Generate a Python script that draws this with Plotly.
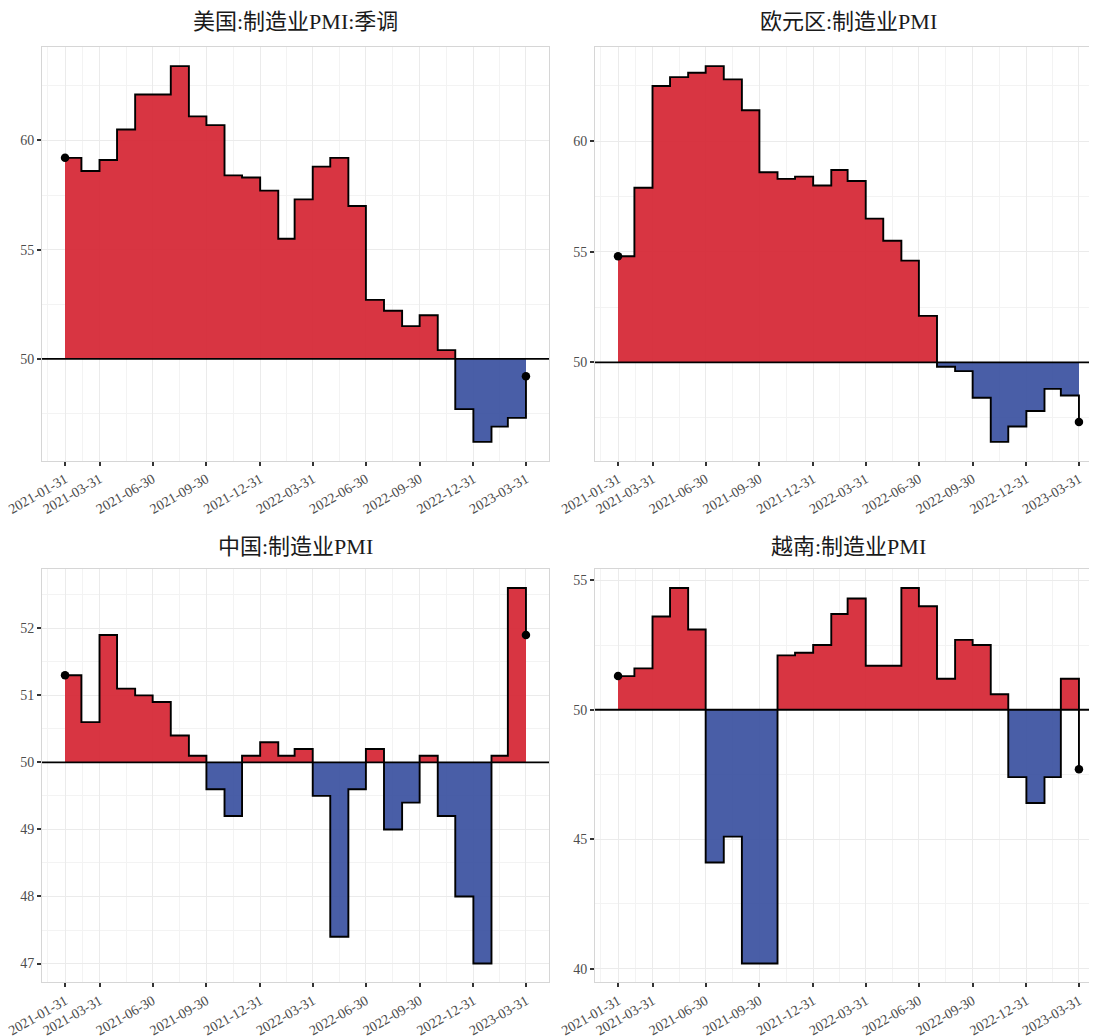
import pandas as pd
import numpy as np
import plotly.graph_objects as go

# ---------------- data ----------------
start_date = "2021-01-31"
n_months = 27

us_pmi = [59.2, 58.6, 59.1, 60.5, 62.1, 62.1, 63.4, 61.1, 60.7, 58.4, 58.3, 57.7,
          55.5, 57.3, 58.8, 59.2, 57.0, 52.7, 52.2, 51.5, 52.0, 50.4, 47.7, 46.2,
          46.9, 47.3, 49.2]
ez_pmi = [54.8, 57.9, 62.5, 62.9, 63.1, 63.4, 62.8, 61.4, 58.6, 58.3, 58.4, 58.0,
          58.7, 58.2, 56.5, 55.5, 54.6, 52.1, 49.8, 49.6, 48.4, 46.4, 47.1, 47.8,
          48.8, 48.5, 47.3]
cn_pmi = [51.3, 50.6, 51.9, 51.1, 51.0, 50.9, 50.4, 50.1, 49.6, 49.2, 50.1, 50.3,
          50.1, 50.2, 49.5, 47.4, 49.6, 50.2, 49.0, 49.4, 50.1, 49.2, 48.0, 47.0,
          50.1, 52.6, 51.9]
vn_pmi = [51.3, 51.6, 53.6, 54.7, 53.1, 44.1, 45.1, 40.2, 40.2, 52.1, 52.2, 52.5,
          53.7, 54.3, 51.7, 51.7, 54.7, 54.0, 51.2, 52.7, 52.5, 50.6, 47.4, 46.4,
          47.4, 51.2, 47.7]

titles = ["美国:制造业PMI:季调", "欧元区:制造业PMI", "中国:制造业PMI", "越南:制造业PMI"]
threshold = 50

x_tick_labels = ["2021-01-31", "2021-03-31", "2021-06-30", "2021-09-30", "2021-12-31",
                 "2022-03-31", "2022-06-30", "2022-09-30", "2022-12-31", "2023-03-31"]
y_ticks = [[50, 55, 60], [50, 55, 60], [47, 48, 49, 50, 51, 52], [40, 45, 50, 55]]
y_minor_step = [2.5, 2.5, 0.5, 2.5]

series = [us_pmi, ez_pmi, cn_pmi, vn_pmi]

# ---------------- styling ----------------
PAGE_OFF = 8                      # default body margin of the html page
W, H = 1097 - PAGE_OFF, 1036 - PAGE_OFF
RED = "rgba(214,40,54,0.94)"
BLUE = "rgba(58,80,160,0.92)"
SERIF = "Liberation Serif, DejaVu Serif, Noto Sans CJK SC, serif"
TITLE_FONT = "Liberation Serif, Noto Sans CJK SC, serif"

# panel pixel boxes in page coordinates (left, right, top, bottom)
panels_px = [
    (42, 549, 47.3, 460.7),
    (595, 1097, 47.3, 460.7),
    (42, 549, 569.3, 982.3),
    (595, 1097, 569.3, 982.3),
]
full_width_px = 549 - 42
title_y_px = [22, 22, 546, 546]

dates = pd.date_range(start_date, periods=n_months, freq=pd.offsets.MonthEnd())
span = dates[-1] - dates[0]
x_lo = dates[0] - 0.05 * span
x_hi_full = dates[-1] + 0.05 * span

tick_dt = pd.to_datetime(x_tick_labels)
minor_dt = [tick_dt[0] - (tick_dt[1] - tick_dt[0]) / 2]
minor_dt += [tick_dt[i] + (tick_dt[i + 1] - tick_dt[i]) / 2 for i in range(len(tick_dt) - 1)]
minor_dt += [tick_dt[-1] + (tick_dt[-1] - tick_dt[-2]) / 2]

fig = go.Figure()
layout_axes = {}
annotations = []
shapes = []

for k, vals in enumerate(series):
    sfx = "" if k == 0 else str(k + 1)
    xa, ya = "x" + sfx, "y" + sfx
    l, r, t, b = [p - PAGE_OFF for p in panels_px[k]]
    vals = np.array(vals, dtype=float)

    # filled month blocks between threshold and value
    left = dates[:-1]
    right = dates[1:]
    widths = [(right[i] - left[i]).total_seconds() * 1000 for i in range(len(left))]
    mids = [left[i] + (right[i] - left[i]) / 2 for i in range(len(left))]
    v = vals[:-1]
    fig.add_trace(go.Bar(
        x=mids, y=v - threshold, base=threshold, width=widths,
        marker=dict(color=[RED if val >= threshold else BLUE for val in v], line=dict(width=0)),
        xaxis=xa, yaxis=ya, showlegend=False, hoverinfo="skip"))

    # step line
    fig.add_trace(go.Scatter(
        x=dates, y=vals, mode="lines", line=dict(color="black", width=1.9, shape="hv"),
        xaxis=xa, yaxis=ya, showlegend=False, hoverinfo="skip"))
    # end points
    fig.add_trace(go.Scatter(
        x=[dates[0], dates[-1]], y=[vals[0], vals[-1]], mode="markers",
        marker=dict(color="black", size=8.5),
        xaxis=xa, yaxis=ya, showlegend=False, hoverinfo="skip", cliponaxis=False))

    # threshold line across panel
    shapes.append(dict(type="line", xref=xa + " domain", x0=0, x1=1, yref=ya,
                       y0=threshold, y1=threshold, line=dict(color="black", width=1.8),
                       layer="above"))

    # ranges
    ymin, ymax = vals.min(), vals.max()
    yr = ymax - ymin
    y_range = [ymin - 0.05 * yr, ymax + 0.05 * yr]
    pw = r - l
    x_hi = x_lo + (x_hi_full - x_lo) * (pw / full_width_px)

    dom_x = [max(l, 0) / W, min(r, W) / W]
    dom_y = [(H - b) / H, (H - t) / H]

    layout_axes["xaxis" + sfx] = dict(
        domain=dom_x, anchor=ya, type="date", range=[x_lo, x_hi], automargin=False,
        tickmode="array", tickvals=list(tick_dt), ticktext=x_tick_labels,
        ticklabeloverflow="allow",
        tickangle=-30, tickfont=dict(family=SERIF, size=14, color="#4D4D4D"),
        ticks="outside", ticklen=4, tickwidth=1.5, tickcolor="#333333",
        showgrid=True, gridcolor="#EBEBEB", gridwidth=1.1,
        minor=dict(tickmode="array", tickvals=minor_dt, showgrid=True,
                   gridcolor="#F3F3F3", gridwidth=0.8, ticks=""),
        showline=True, mirror=True, linecolor="#D6D6D6", linewidth=1,
        zeroline=False, fixedrange=True)
    layout_axes["yaxis" + sfx] = dict(
        domain=dom_y, anchor=xa, range=y_range, automargin=False,
        tickmode="array", tickvals=y_ticks[k], ticktext=[str(tv) for tv in y_ticks[k]],
        ticklabeloverflow="allow",
        tickfont=dict(family=SERIF, size=14, color="#4D4D4D"),
        ticks="outside", ticklen=4, tickwidth=1.5, tickcolor="#333333",
        showgrid=True, gridcolor="#EBEBEB", gridwidth=1.1,
        minor=dict(tickmode="linear", tick0=0, dtick=y_minor_step[k], showgrid=True,
                   gridcolor="#F3F3F3", gridwidth=0.8, ticks=""),
        showline=True, mirror=True, linecolor="#D6D6D6", linewidth=1,
        zeroline=False, fixedrange=True)

    center_px = (l + l + full_width_px) / 2
    annotations.append(dict(text=titles[k], xref="paper", yref="paper",
                            x=center_px / W, y=1 - (title_y_px[k] - PAGE_OFF) / H,
                            xanchor="center", yanchor="middle", showarrow=False,
                            font=dict(family=TITLE_FONT, size=22, color="#1A1A1A")))

fig.update_layout(
    width=W, height=H, autosize=False,
    margin=dict(l=0, r=0, t=0, b=0),
    paper_bgcolor="white", plot_bgcolor="white",
    barmode="overlay", bargap=0,
    annotations=annotations, shapes=shapes,
    **layout_axes)

fig.write_html("out.html")
